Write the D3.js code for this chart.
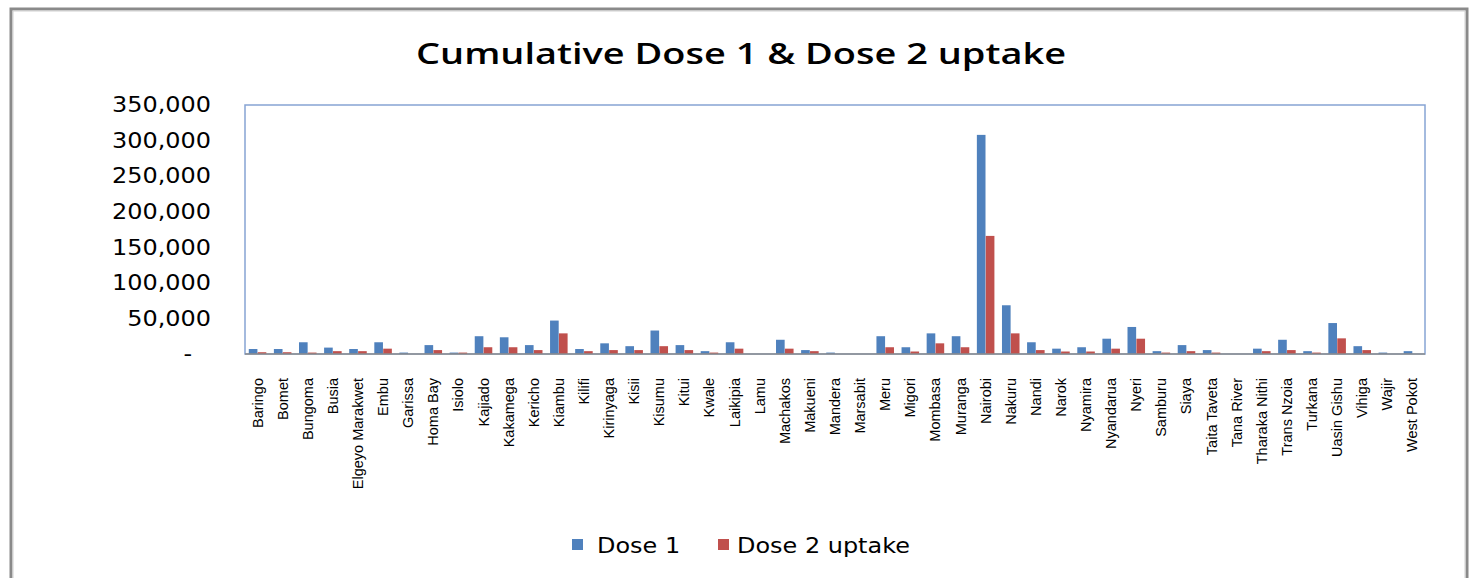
<!DOCTYPE html>
<html>
<head>
<meta charset="utf-8">
<script src="https://cdn.jsdelivr.net/npm/d3@7"></script>
<style>
  body { margin:0; background:#fff; }
  svg { display:block; }
</style>
</head>
<body>
<div id="chart"></div>
<script>
// counties on the x axis
const counties = ["Baringo","Bomet","Bungoma","Busia","Elgeyo Marakwet","Embu","Garissa","Homa Bay","Isiolo","Kajiado",
  "Kakamega","Kericho","Kiambu","Kilifi","Kirinyaga","Kisii","Kisumu","Kitui","Kwale","Laikipia",
  "Lamu","Machakos","Makueni","Mandera","Marsabit","Meru","Migori","Mombasa","Muranga","Nairobi",
  "Nakuru","Nandi","Narok","Nyamira","Nyandarua","Nyeri","Samburu","Siaya","Taita Taveta","Tana River",
  "Tharaka Nithi","Trans Nzoia","Turkana","Uasin Gishu","Vihiga","Wajir","West Pokot"]

const dose1 = [7000,7000,16500,9000,7000,16500,2000,12500,2000,25000,
  23500,12500,47000,7000,15000,11000,33000,12500,4000,16500,
  0,20000,5500,2000,0,25000,9500,29000,25000,308000,
  68500,16500,7500,9500,21500,38000,4000,12500,5500,0,
  7500,20000,4000,43500,11000,2000,4000]

const dose2 = [2500,2500,2000,4000,4000,7500,0,5500,2000,9500,
  9500,5500,29000,4000,5500,5500,11000,5500,2000,7500,
  0,7500,4000,0,0,9500,3500,15000,9500,166000,
  29000,5500,3500,3500,7500,21500,2000,4000,2000,0,
  4000,5500,2000,22000,5500,0,0]

const seriesNames = ["Dose 1","Dose 2 uptake"]
const seriesColors = ["#4f81bd","#c0504d"]
const yTicks = [0,50000,100000,150000,200000,250000,300000,350000]

const width = 1472, height = 578
const plot = { left:245, right:1425, top:105, bottom:354 }

const svg = d3.select("#chart").append("svg")
  .attr("width", width).attr("height", height)

// stretch text horizontally, the picture is a bit wider than normal fonts
function stretch(sel, k){
  sel.each(function(){
    let w = this.getComputedTextLength()
    if (w > 0) d3.select(this).attr("textLength", w * k).attr("lengthAdjust","spacingAndGlyphs")
  })
}

// outer frame
svg.append("rect").attr("x",11).attr("y",9).attr("width",1456).attr("height",600)
  .attr("fill","none").attr("stroke","#8a8a8a").attr("stroke-width",3)
svg.append("rect").attr("x",13).attr("y",11).attr("width",1452).attr("height",600)
  .attr("fill","none").attr("stroke","#d0d0d0").attr("stroke-width",1)

svg.append("text").attr("x",741).attr("y",64)
  .attr("text-anchor","middle")
  .attr("font-family","Open Sans").attr("font-weight",600).attr("font-size",29)
  .attr("fill","#000")
  .attr("textLength",650).attr("lengthAdjust","spacingAndGlyphs")
  .text("Cumulative Dose 1 & Dose 2 uptake")

let xScale = d3.scaleBand().domain(counties)
  .range([plot.left, plot.right]).paddingInner(0.28).paddingOuter(0.14)
let xSub = d3.scaleBand().domain(seriesNames).range([0, xScale.bandwidth()]).padding(0.03)
let yScale = d3.scaleLinear().domain([0,350000]).range([plot.bottom, plot.top])

// plot area border
svg.append("rect").attr("x",plot.left).attr("y",plot.top)
  .attr("width",plot.right-plot.left).attr("height",plot.bottom-plot.top)
  .attr("fill","none").attr("stroke","#86a4d4").attr("stroke-width",1.5)

let rows = counties.map((c,i) => ({ county:c, values:[dose1[i], dose2[i]] }))

let groups = svg.append("g").selectAll("g").data(rows).enter().append("g")
  .attr("transform", d => `translate(${xScale(d.county)},0)`)

groups.selectAll("rect")
  .data(d => d.values.map((v,j) => ({ name:seriesNames[j], value:v, color:seriesColors[j] })))
  .enter().append("rect")
  .attr("x", d => xSub(d.name))
  .attr("width", xSub.bandwidth())
  .attr("y", d => yScale(d.value))
  .attr("height", d => plot.bottom - yScale(d.value))
  .attr("fill", d => d.color)

// y axis
let yAxis = d3.axisLeft(yScale).tickValues(yTicks).tickSize(0).tickPadding(34)
  .tickFormat(d => d === 0 ? "-" : d3.format(",")(d))
let yGroup = svg.append("g").attr("transform",`translate(${plot.left},0)`).call(yAxis)
yGroup.select(".domain").remove()
yGroup.selectAll("text")
  .attr("font-family","DejaVu Sans").attr("font-size",21).attr("fill","#000")
  .attr("dx", d => d === 0 ? -19 : 0)
stretch(yGroup.selectAll("text"), 1.14)

// x baseline
svg.append("line").attr("x1",plot.left).attr("x2",plot.right)
  .attr("y1",plot.bottom).attr("y2",plot.bottom)
  .attr("stroke","#8c8c8c").attr("stroke-width",1.5)

// x labels
svg.append("g").selectAll("text").data(counties).enter().append("text")
  .attr("transform", d => `translate(${xScale(d) + xScale.bandwidth()/2 + 5},378) rotate(-90)`)
  .attr("text-anchor","end")
  .attr("font-family","Liberation Sans").attr("font-size",14.5).attr("fill","#000")
  .text(d => d)

// legend
let legendX = [572, 718]
let legend = svg.append("g").selectAll("g").data(seriesNames).enter().append("g")
  .attr("transform", (d,i) => `translate(${legendX[i]},539)`)
legend.append("rect").attr("width",11).attr("height",11).attr("fill",(d,i) => seriesColors[i])
let legendText = legend.append("text").attr("x",(d,i) => i === 0 ? 25 : 19).attr("y",14)
  .attr("font-family","DejaVu Sans").attr("font-size",21).attr("fill","#000")
  .text(d => d)
stretch(legendText, 1.14)
</script>
</body>
</html>
